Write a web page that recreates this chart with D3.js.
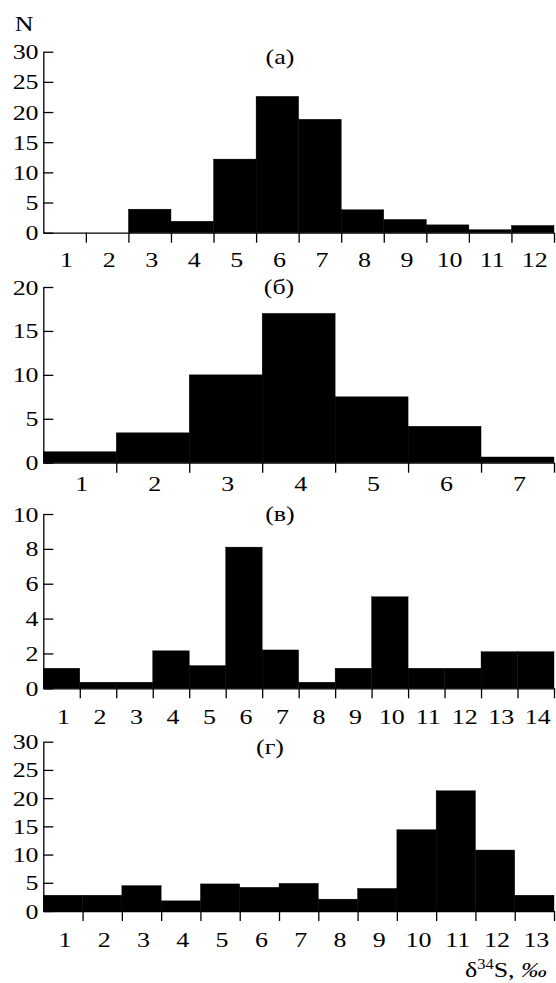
<!DOCTYPE html>
<html>
<head>
<meta charset="utf-8">
<script src="https://cdn.jsdelivr.net/npm/d3@7"></script>
<style>
  body { margin: 0; background: #fff; }
  text { font-family: "Liberation Serif", "Times New Roman", serif; fill: #000; }
</style>
</head>
<body>
<svg id="chart" width="556" height="983"></svg>
<script>
// histogram data (N per 1 permil bin)
const binsA = [1, 2, 3, 4, 5, 6, 7, 8, 9, 10, 11, 12];
const countsA = [0, 0, 3.9, 1.9, 12.2, 22.6, 18.8, 3.8, 2.2, 1.3, 0.5, 1.2];

const binsB = [1, 2, 3, 4, 5, 6, 7];
const countsB = [1.25, 3.4, 10, 17, 7.5, 4.15, 0.65];

const binsV = [1, 2, 3, 4, 5, 6, 7, 8, 9, 10, 11, 12, 13, 14];
const countsV = [1.15, 0.35, 0.35, 2.15, 1.3, 8.1, 2.2, 0.35, 1.15, 5.25, 1.15, 1.15, 2.1, 2.1];

const binsG = [1, 2, 3, 4, 5, 6, 7, 8, 9, 10, 11, 12, 13];
const countsG = [2.8, 2.8, 4.5, 1.8, 4.8, 4.2, 4.9, 2.1, 4.0, 14.4, 21.3, 10.8, 2.8];

const titles = ['(а)', '(б)', '(в)', '(г)'];
const yMax = [30, 20, 10, 30];
const yStep = [5, 5, 2, 5];

const d3 = window.d3;
const svg = d3.select('#chart');
const stretch = 'scale(1.18,1)';   // the figure's lettering is a bit wide

// panel layout in pixels
const left = 43.3, right = 554;
const layout = [
  { base: 232.7, top: 51.7,  titleX: 280, titleY: 64,    labelDy: 34 },
  { base: 462.7, top: 287,   titleX: 279, titleY: 293.5, labelDy: 28 },
  { base: 688.3, top: 514,   titleX: 280, titleY: 520.5, labelDy: 36 },
  { base: 911,   top: 741.7, titleX: 270, titleY: 754,   labelDy: 36 }
];

const panels = [
  [binsA, countsA],
  [binsB, countsB],
  [binsV, countsV],
  [binsG, countsG]
];

panels.forEach(([bins, counts], i) => {
  const L = layout[i];
  const n = bins.length;
  const g = svg.append('g');

  const x = d3.scaleLinear()
    .domain([bins[0] - 0.5, bins[n - 1] + 0.5])
    .range([left, right]);

  const y = d3.scaleLinear()
    .domain([0, yMax[i]])
    .range([L.base, L.top]);

  const data = bins.map((b, k) => ({ bin: b, n: counts[k] }));

  // bars
  g.selectAll('rect')
    .data(data.filter(d => d.n > 0))
    .enter()
    .append('rect')
    .attr('x', d => x(d.bin - 0.5))
    .attr('y', d => y(d.n))
    .attr('width', d => x(d.bin + 0.5) - x(d.bin - 0.5))
    .attr('height', d => y(0) - y(d.n))
    .style('fill', '#000')
    .style('stroke', '#000')
    .style('stroke-width', 0.4);

  // y axis, ticks point inward
  const yAxis = g.append('g')
    .attr('transform', `translate(${left},0)`)
    .call(d3.axisLeft(y)
      .tickValues(d3.range(0, yMax[i] + 0.001, yStep[i]))
      .tickSizeInner(-10)
      .tickSizeOuter(0)
      .tickPadding(4));

  // x axis: ticks at bin edges
  const edges = bins.map(b => b + 0.5);
  const xAxis = g.append('g')
    .attr('transform', `translate(0,${L.base})`)
    .call(d3.axisBottom(x)
      .tickValues(edges)
      .tickFormat('')
      .tickSizeInner(10)
      .tickSizeOuter(0));

  // x labels at bin centres
  const xLabels = g.append('g')
    .attr('transform', `translate(1.5,${L.base})`)
    .call(d3.axisBottom(x)
      .tickValues(bins)
      .tickFormat(d3.format('d'))
      .tickSize(0)
      .tickPadding(L.labelDy - 15.6));
  xLabels.select('.domain').remove();

  [yAxis, xAxis, xLabels].forEach(a => {
    a.selectAll('path, line').attr('stroke', '#000').attr('stroke-width', 1.3);
    a.selectAll('text')
      .attr('font-family', null)
      .style('font-size', '22px')
      .attr('fill', '#000')
      .attr('transform', stretch);
  });

  g.append('text')
    .attr('transform', `translate(${L.titleX},${L.titleY}) ${stretch}`)
    .attr('text-anchor', 'middle')
    .style('font-size', '22px')
    .text(titles[i]);
});

// axis names
svg.append('text')
  .attr('transform', `translate(24,30.7) ${stretch}`)
  .attr('text-anchor', 'middle')
  .style('font-size', '22px')
  .text('N');

const xName = svg.append('text')
  .attr('transform', `translate(547,977) ${stretch}`)
  .attr('text-anchor', 'end')
  .style('font-size', '22px');
xName.append('tspan').text('δ');
xName.append('tspan').attr('dy', -8).style('font-size', '14px').text('34');
xName.append('tspan').attr('dy', 8).text('S, ');
xName.append('tspan').style('font-style', 'italic').text('‰');
</script>
</body>
</html>
